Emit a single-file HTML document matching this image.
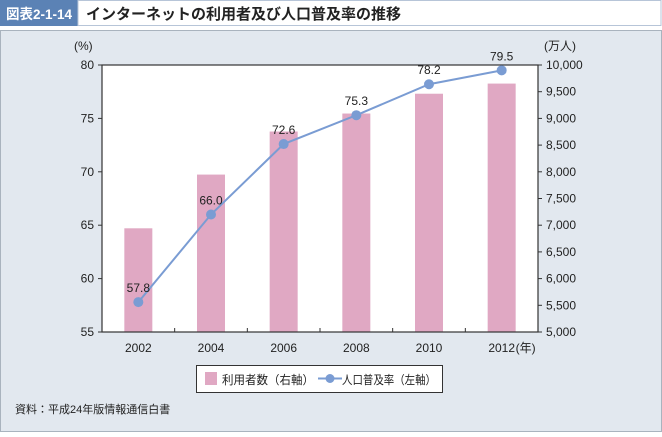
<!DOCTYPE html>
<html><head><meta charset="utf-8"><style>
body{margin:0;width:662px;height:432px;overflow:hidden;background:#fff;font-family:"Liberation Sans","Noto Sans CJK JP",sans-serif;}
</style></head><body>
<svg width="662" height="432" xmlns="http://www.w3.org/2000/svg" font-family="Liberation Sans, Noto Sans CJK JP, sans-serif">
<rect x="0.5" y="30.5" width="661" height="401" fill="#e2e8ef" stroke="#a9b3be"/>
<rect x="0" y="0" width="78" height="26" fill="#5b82b5"/>
<rect x="78" y="0.5" width="583" height="25" fill="#fff" stroke="#b7c5d8"/>
<text x="6" y="19" font-size="14" font-weight="bold" fill="#fff" textLength="66" lengthAdjust="spacingAndGlyphs">図表2-1-14</text>
<text x="86" y="19" font-size="15" font-weight="bold" fill="#222">インターネットの利用者及び人口普及率の推移</text>
<g id="chart"></g>
<g>
<rect x="196.5" y="365.5" width="246" height="27" fill="#fff" stroke="#333"/>
<rect x="205" y="372" width="12" height="13" fill="#e0a8c3"/>
<text x="222" y="384" font-size="12" fill="#222" textLength="92" lengthAdjust="spacingAndGlyphs">利用者数（右軸）</text>
<line x1="318" y1="378.5" x2="342" y2="378.5" stroke="#7a9cd3" stroke-width="2"/>
<circle cx="330" cy="378.5" r="4.5" fill="#7a9cd3"/>
<text x="342" y="384" font-size="12" fill="#222" textLength="94" lengthAdjust="spacingAndGlyphs">人口普及率（左軸）</text>
</g>
<text x="15" y="413" font-size="11" fill="#222">資料：平成24年版情報通信白書</text>
</svg>
<script>
const years=["2002","2004","2006","2008","2010","2012"];
const users=[6942,7948,8754,9091,9462,9652];
const rate=[57.8,66.0,72.6,75.3,78.2,79.5];
const leftTicks=[55,60,65,70,75,80];
const rightTicks=[5000,5500,6000,6500,7000,7500,8000,8500,9000,9500,10000];
const L=102,R=538,T=65,B=332,NS="http://www.w3.org/2000/svg";
const g=document.getElementById('chart');
const bw=(R-L)/years.length;
const xc=i=>L+bw*(i+0.5);
const yl=v=>B-(v-55)/25*(B-T);
const yr=v=>B-(v-5000)/5000*(B-T);
function mk(t,a,txt){const e=document.createElementNS(NS,t);for(const k in a)e.setAttribute(k,a[k]);if(txt!=null)e.textContent=txt;g.appendChild(e);return e;}
let e=mk('rect',{x:L,y:T,width:R-L,height:B-T,fill:'#fff'});


users.forEach((v,i)=>{const b=mk('rect',{x:xc(i)-14,y:yr(v),width:28,height:B-yr(v),fill:'#e0a8c3'});

});
mk('rect',{x:L,y:T,width:R-L,height:B-T,fill:'none',stroke:'#333','stroke-width':1.2});
leftTicks.forEach(v=>{mk('line',{x1:L-4,x2:L,y1:yl(v),y2:yl(v),stroke:'#333'});
const t=mk('text',{x:L-8,y:yl(v)+4,'font-size':12,'text-anchor':'end',fill:'#222'},v);

});
rightTicks.forEach(v=>{mk('line',{x1:R,x2:R+4,y1:yr(v),y2:yr(v),stroke:'#333'});
const t=mk('text',{x:R+8,y:yr(v)+4,'font-size':12,fill:'#222'},v.toLocaleString('en-US'));

});
for(let i=1;i<years.length;i++)mk('line',{x1:L+bw*i,x2:L+bw*i,y1:B,y2:B-4,stroke:'#333'});
years.forEach((y,i)=>{const t=mk('text',{x:xc(i),y:B+20,'font-size':12,'text-anchor':'middle',fill:'#222'},y);

});
mk('text',{x:xc(years.length-1)+14,y:B+20,'font-size':12,fill:'#222'},'(年)');
mk('text',{x:L-28,y:50,'font-size':12,fill:'#222'},'(%)');
mk('text',{x:R+6,y:50,'font-size':12,fill:'#222'},'(万人)');
const pl=mk('polyline',{points:rate.map((v,i)=>xc(i)+','+yl(v)).join(' '),fill:'none',stroke:'#7a9cd3','stroke-width':2});


rate.forEach((v,i)=>{const c=mk('circle',{cx:xc(i),cy:yl(v),r:5,fill:'#7a9cd3'});


const t=mk('text',{x:xc(i),y:yl(v)-10,'font-size':12,'text-anchor':'middle',fill:'#222'},v.toFixed(1));

});
</script>
</body></html>
